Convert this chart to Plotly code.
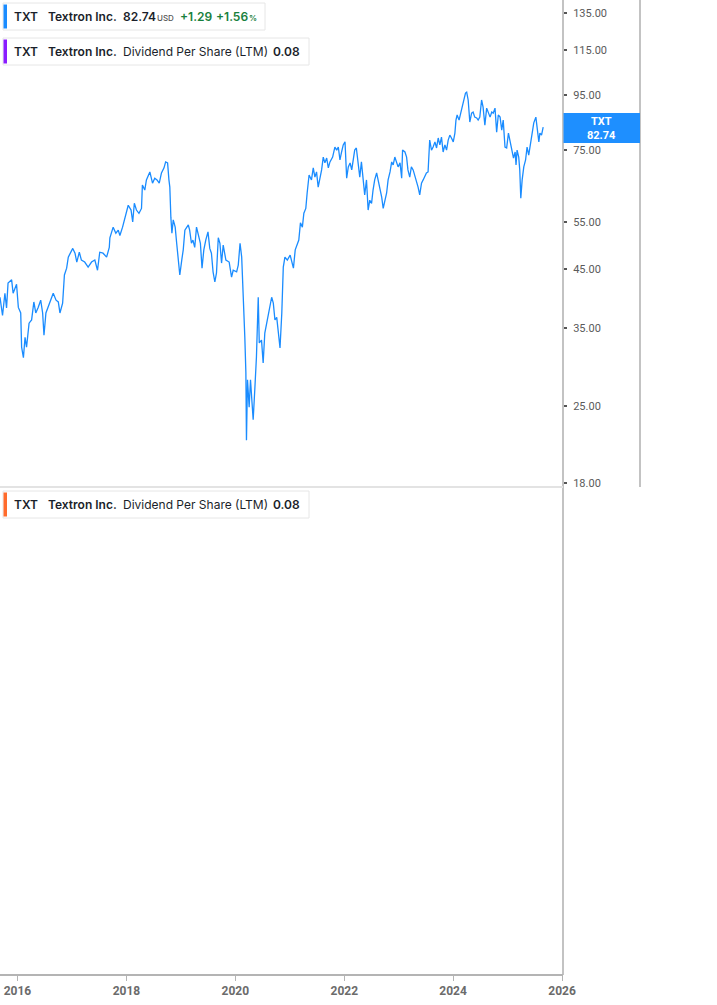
import plotly.graph_objects as go
import math

# ---------------- data ----------------
dates = [
"2015-09-06","2015-09-23","2015-10-09","2015-10-20","2015-10-30","2015-11-23","2015-12-03","2015-12-26",
"2016-01-07","2016-01-23","2016-01-29","2016-02-10","2016-02-21","2016-03-02","2016-03-19","2016-04-05",
"2016-04-20","2016-05-03","2016-05-19","2016-06-05","2016-06-18","2016-06-27","2016-07-10","2016-07-25",
"2016-08-18","2016-08-28","2016-09-16","2016-10-01","2016-10-12","2016-10-30","2016-11-11","2016-11-26",
"2016-12-07","2016-12-23","2017-01-06","2017-01-21","2017-02-02","2017-02-19","2017-03-05","2017-03-27",
"2017-04-19","2017-05-12","2017-06-03","2017-06-21","2017-07-06","2017-07-28","2017-08-21","2017-09-08",
"2017-09-12","2017-10-04","2017-10-22","2017-11-07","2017-11-18","2017-12-06","2017-12-21","2018-01-13",
"2018-02-01","2018-02-12","2018-02-23","2018-03-09","2018-03-26","2018-04-12","2018-04-18","2018-05-04",
"2018-05-15","2018-06-07","2018-06-25","2018-07-10","2018-07-25","2018-08-09","2018-08-24","2018-09-10",
"2018-09-21","2018-10-04","2018-10-13","2018-10-19","2018-10-26","2018-11-02","2018-11-11","2018-11-24",
"2018-12-04","2018-12-19","2018-12-25","2019-01-07","2019-01-17","2019-01-28","2019-02-20","2019-03-01",
"2019-03-13","2019-03-23","2019-04-04","2019-04-16","2019-04-26","2019-05-12","2019-05-23","2019-06-04",
"2019-06-17","2019-07-02","2019-07-14","2019-07-25","2019-08-05","2019-08-17","2019-08-28","2019-09-09",
"2019-09-20","2019-10-01","2019-10-12","2019-10-30","2019-11-21","2019-12-07","2019-12-18","2020-01-10",
"2020-01-21","2020-02-02","2020-02-13","2020-02-24","2020-03-05","2020-03-12","2020-03-16","2020-03-23",
"2020-04-03","2020-04-12","2020-04-21","2020-04-30","2020-05-11","2020-05-22","2020-06-03","2020-06-10",
"2020-06-25","2020-07-06","2020-07-17","2020-08-02","2020-08-16","2020-09-01","2020-09-12","2020-09-23",
"2020-10-05","2020-10-15","2020-10-22","2020-10-27","2020-11-08","2020-11-18","2020-11-29","2020-12-15",
"2021-01-03","2021-01-14","2021-01-25","2021-02-06","2021-02-21","2021-03-02","2021-03-13","2021-03-26",
"2021-04-05","2021-04-18","2021-04-27","2021-05-10","2021-05-26","2021-06-07","2021-06-18","2021-06-29",
"2021-07-10","2021-07-21","2021-08-02","2021-08-13","2021-08-24","2021-09-05","2021-09-16","2021-09-27",
"2021-10-15","2021-10-30","2021-11-11","2021-11-22","2021-12-03","2021-12-14","2021-12-25","2022-01-06",
"2022-01-17","2022-01-28","2022-02-09","2022-02-20","2022-03-01","2022-03-12","2022-03-23","2022-04-04",
"2022-04-15","2022-04-26","2022-05-07","2022-05-18","2022-05-30","2022-06-10","2022-06-21","2022-07-03",
"2022-07-13","2022-07-24","2022-08-06","2022-08-16","2022-08-27","2022-09-09","2022-09-19","2022-09-30",
"2022-10-12","2022-10-22","2022-11-04","2022-11-15","2022-11-25","2022-12-06","2022-12-18","2022-12-28",
"2023-01-10","2023-01-21","2023-01-27","2023-02-12","2023-02-23","2023-03-04","2023-03-16","2023-03-27",
"2023-04-08","2023-04-19","2023-04-30","2023-05-11","2023-05-22","2023-06-03","2023-06-14","2023-06-25",
"2023-07-06","2023-07-17","2023-07-28","2023-08-09","2023-08-20","2023-09-01","2023-09-12","2023-09-23",
"2023-10-04","2023-10-15","2023-10-26","2023-11-07","2023-11-18","2023-11-29","2023-12-10","2023-12-21",
"2024-01-02","2024-01-13","2024-01-20","2024-01-28","2024-02-10","2024-02-21","2024-03-01","2024-03-13",
"2024-03-24","2024-04-01","2024-04-11","2024-04-22","2024-05-04","2024-05-14","2024-05-25","2024-06-07",
"2024-06-17","2024-06-28","2024-07-10","2024-07-20","2024-08-01","2024-08-13","2024-08-23","2024-09-05",
"2024-09-16","2024-09-26","2024-10-08","2024-10-19","2024-10-30","2024-11-11","2024-11-22","2024-12-02",
"2024-12-14","2024-12-25","2025-01-06","2025-01-17","2025-01-28","2025-02-09","2025-02-20","2025-02-26",
"2025-03-05","2025-03-16","2025-03-23","2025-03-30","2025-04-08","2025-04-19","2025-05-01","2025-05-11",
"2025-05-22","2025-06-03","2025-06-14","2025-06-25","2025-07-09","2025-07-17","2025-07-29","2025-08-05",
"2025-08-16","2025-08-27",
]

prices = [
39.9,36.9,40.6,38.1,42.4,43.0,40.6,42.2,
38.2,37.3,32.2,30.8,33.6,32.2,35.7,36.2,
39.1,37.3,38.2,39.4,37.3,33.9,37.3,38.2,
39.7,40.6,39.4,39.1,37.3,38.9,43.9,45.2,
47.4,48.2,49.2,48.2,46.4,48.4,46.8,46.4,
45.4,46.4,46.8,44.8,48.4,48.2,47.4,49.4,
51.5,53.9,52.5,53.2,52.0,53.9,56.2,59.2,
58.0,55.1,59.7,58.0,57.2,58.4,64.6,63.2,
66.0,68.3,65.1,66.5,66.0,65.1,68.0,69.5,
71.3,71.0,66.0,64.0,56.2,52.5,55.6,53.9,
50.3,45.4,43.9,46.8,48.9,53.2,54.4,53.2,
50.3,51.0,49.4,53.9,52.5,50.3,45.2,48.9,
51.0,52.8,49.2,48.2,44.5,42.6,44.3,51.5,
50.3,46.2,49.9,46.8,46.4,43.5,44.8,44.5,
45.8,50.3,47.4,40.6,33.6,28.9,21.6,28.0,
24.9,28.0,25.9,23.6,26.9,30.9,39.9,32.8,
33.2,30.1,34.2,36.2,38.2,39.9,38.9,36.2,
36.6,34.2,32.2,32.1,37.3,45.4,47.4,46.8,
47.8,46.4,45.2,48.9,50.3,51.0,54.9,53.9,
57.2,58.4,62.4,67.4,66.0,69.5,66.8,68.3,
64.0,66.0,68.9,72.8,71.0,72.5,69.5,71.3,
72.8,76.0,75.0,76.0,71.9,74.4,76.7,77.7,
66.5,69.8,71.0,68.9,71.9,75.0,75.7,69.8,
66.8,71.3,66.0,61.9,66.0,58.0,60.5,59.7,
63.2,66.0,68.0,66.0,63.2,61.3,58.4,60.5,
62.4,66.0,68.3,71.3,70.4,72.8,71.0,69.8,
71.0,66.5,75.0,74.4,72.8,68.9,66.8,69.8,
68.9,67.4,66.0,64.0,61.9,65.1,66.0,66.8,
68.0,68.3,78.3,75.0,76.0,77.7,75.7,79.0,
76.7,79.3,74.4,76.7,75.0,78.3,80.0,79.0,
77.7,80.7,85.3,87.2,85.3,87.9,90.2,93.0,
95.8,96.2,93.0,84.6,87.9,88.3,86.4,86.1,
85.3,86.4,93.0,90.2,83.5,89.8,88.3,86.4,
88.3,87.9,89.8,81.0,87.2,86.4,81.7,85.3,
76.0,75.7,80.7,77.7,75.0,72.5,74.4,70.4,
75.0,72.8,68.9,61.0,66.0,69.8,71.9,76.0,
73.4,77.3,80.7,84.3,86.4,82.7,77.7,80.7,
80.0,82.74,
]

y_ticks = [18, 25, 35, 45, 55, 75, 95, 115, 135]
y_tick_labels = ["18.00", "25.00", "35.00", "45.00", "55.00", "75.00", "95.00", "115.00", "135.00"]
x_tick_dates = ["2016-01-01", "2018-01-01", "2020-01-01", "2022-01-01", "2024-01-01", "2026-01-01"]
x_tick_labels = ["2016", "2018", "2020", "2022", "2024", "2026"]

ticker = "TXT"
company = "Textron Inc."
last_price = "82.74"
change_abs = "+1.29"
change_pct = "+1.56"
metric_name = "Dividend Per Share (LTM)"
metric_value = "0.08"

# ---------------- layout helpers ----------------
W, H = 717, 1005
B = 30
PH = H - B  # plot area height


def px(x):
    return x / W


def py(y):
    return (PH - y) / PH


LINE_BLUE = "#1a8cff"
AXIS_GREY = "#b4b4b4"
TEXT_DARK = "#1b1f2b"
GREEN = "#18803c"
FONT = "Inter"

fig = go.Figure()
fig.add_trace(go.Scatter(
    x=dates, y=prices, mode="lines",
    line=dict(color=LINE_BLUE, width=1.3),
    hoverinfo="skip", showlegend=False,
    xaxis="x", yaxis="y",
))

shapes = []
annotations = []

# axis frame lines
shapes.append(dict(type="line", xref="paper", yref="paper", x0=px(563), x1=px(563), y0=0, y1=1,
                   line=dict(color=AXIS_GREY, width=1.6)))
shapes.append(dict(type="line", xref="paper", yref="paper", x0=px(640), x1=px(640), y0=py(487), y1=1,
                   line=dict(color=AXIS_GREY, width=1.6)))
shapes.append(dict(type="line", xref="paper", yref="paper", x0=0, x1=px(563), y0=py(487), y1=py(487),
                   line=dict(color="#e3e3e3", width=2)))

# price tag
shapes.append(dict(type="rect", xref="paper", yref="paper", x0=px(563.5), x1=px(640), y0=py(143), y1=py(113),
                   fillcolor="#1e8fff", line=dict(width=0), layer="above"))
annotations.append(dict(xref="paper", yref="paper", x=px(601.5), y=py(128), text="<b>%s</b><br><b>%s</b>" % (ticker, last_price),
                        showarrow=False, xanchor="center", yanchor="middle", align="center",
                        font=dict(family="Roboto", size=11, color="white")))


def legend_box(y0, y1, x1, bar_color):
    shapes.append(dict(type="rect", xref="paper", yref="paper", x0=px(3), x1=px(x1), y0=py(y1), y1=py(y0),
                       fillcolor="white", line=dict(color="#e6e6e6", width=1), layer="above"))
    shapes.append(dict(type="rect", xref="paper", yref="paper", x0=px(3.5), x1=px(7), y0=py(y1 - 1.5), y1=py(y0 + 1.5),
                       fillcolor=bar_color, line=dict(width=0), layer="above"))


def txt(x, y, s, size=12, color=TEXT_DARK, weight=600):
    annotations.append(dict(xref="paper", yref="paper", x=px(x), y=py(y), text=s, showarrow=False,
                            xanchor="left", yanchor="middle",
                            font=dict(family=FONT, size=size, color=color, weight=weight)))


# legend 1 (price)
legend_box(3, 30, 265, "#1a8cff")
txt(12, 16.5, ticker)
txt(46, 16.5, company)
txt(121, 16.5, last_price)
txt(155, 18, "USD", size=8, color="#555555", weight=500)
txt(178, 16.5, change_abs, color=GREEN)
txt(214, 16.5, change_pct, color=GREEN)
txt(247, 18, "%", size=8, color=GREEN, weight=600)

# legend 2 (dividend, top panel)
legend_box(38, 65, 309, "#8a1cff")
txt(12, 51.5, ticker)
txt(46, 51.5, company)
txt(121, 51.5, metric_name, weight=400)
txt(271, 51.5, metric_value)

# legend 3 (dividend, bottom panel)
legend_box(491, 518, 309, "#ff6b2c")
txt(12, 504.5, ticker)
txt(46, 504.5, company)
txt(121, 504.5, metric_name, weight=400)
txt(271, 504.5, metric_value)

y_lo = math.log10(17.68)
y_hi = math.log10(142.8)

fig.update_layout(
    width=W, height=H,
    margin=dict(l=0, r=0, t=0, b=B, autoexpand=False),
    paper_bgcolor="white", plot_bgcolor="white",
    showlegend=False,
    xaxis=dict(
        domain=[0, px(563)], anchor="free", position=0,
        type="date", range=["2015-09-06", "2026-01-07"],
        tickvals=x_tick_dates, ticktext=x_tick_labels,
        showgrid=False, zeroline=False, automargin=False,
        showline=True, linecolor=AXIS_GREY, linewidth=1.6,
        ticks="outside", ticklen=5, tickwidth=1.3, tickcolor=AXIS_GREY,
        tickfont=dict(family="Roboto", size=12, color="#6b6b6b", weight=700),
    ),
    yaxis=dict(
        domain=[py(487), 1], type="log", range=[y_lo, y_hi],
        side="right", anchor="free", position=px(563), automargin=False,
        tickvals=y_ticks, ticktext=y_tick_labels,
        showgrid=False, zeroline=False, showline=False,
        ticks="outside", ticklen=3, tickwidth=2, tickcolor="#555555",
        ticklabelstandoff=4,
        tickfont=dict(family="Roboto", size=11, color="#5a5a5a"),
    ),
    shapes=shapes,
    annotations=annotations,
)

fig.write_html(
    "out.html",
    config={"displayModeBar": False},
    post_script="document.body.style.margin='0';document.body.style.overflow='hidden';",
)
